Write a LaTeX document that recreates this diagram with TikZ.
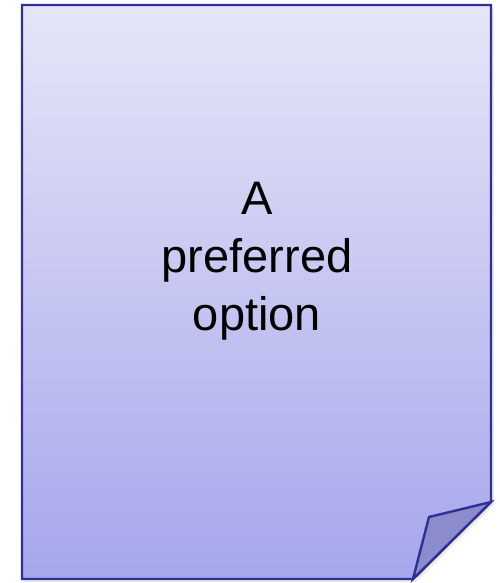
\documentclass[tikz,border=0pt]{standalone}
\usepackage{fontspec}
\setmainfont{Liberation Sans}
\definecolor{pgtop}{RGB}{230,230,248}
\definecolor{pgbot}{RGB}{166,166,236}
\definecolor{pgline}{RGB}{46,48,150}
\definecolor{pgfold}{RGB}{140,140,204}
\tikzset{
  pageline/.style={draw=pgline, line width=2.4pt, line join=miter},
  pagetext/.style={anchor=base, inner sep=0pt, font=\fontsize{47}{56}\selectfont, text=black},
}
\begin{document}
\begin{tikzpicture}[x=1pt, y=-1pt]
\useasboundingbox (0,0) rectangle (500,583);
% corner points
\coordinate (tl) at (22,5);
\coordinate (tr) at (491,5);
\coordinate (rc) at (491,502);
\coordinate (bc) at (413,579);
\coordinate (bl) at (22,579);
\coordinate (fi) at (429,517);
% soft shadow
\fill[black, opacity=0.08] ([shift={(2,3)}]tl) -- ([shift={(3,3)}]tr) -- ([shift={(3,3)}]rc) -- ([shift={(3,3)}]bc) -- ([shift={(2,3)}]bl) -- cycle;
\fill[black, opacity=0.06] ([shift={(-1,1)}]tl) -- ([shift={(1,1)}]tr) -- ([shift={(1,1)}]rc) -- ([shift={(1,1)}]bc) -- ([shift={(-1,1)}]bl) -- cycle;
% page
\shade[top color=pgtop, bottom color=pgbot] (tl) -- (tr) -- (rc) -- (bc) -- (bl) -- cycle;
\draw[pageline] (tl) -- (tr) -- (rc) -- (bc) -- (bl) -- cycle;
% fold
\draw[pageline, fill=pgfold] (rc) -- (fi) -- (bc) -- cycle;
% text
\node[pagetext] (t1) at (257,214) {A};
\node[pagetext] (t2) at (257,272) {preferred};
\node[pagetext] (t3) at (257,330) {option};
\end{tikzpicture}
\end{document}
